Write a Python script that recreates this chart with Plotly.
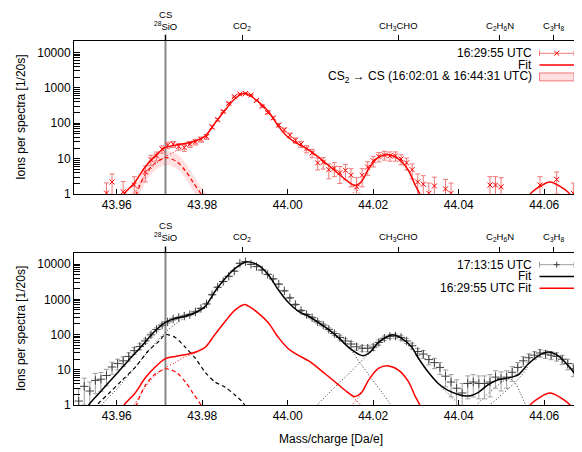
import plotly.graph_objects as go

# ---- mass channels (Da/e), shared by both spectra
mass = [43.9511, 43.9524, 43.9537, 43.9550, 43.9563, 43.9576, 43.9589, 43.9602, 43.9615, 43.9628,
        43.9641, 43.9654, 43.9667, 43.9680, 43.9693, 43.9706, 43.9719, 43.9732, 43.9745, 43.9758,
        43.9771, 43.9784, 43.9797, 43.9810, 43.9823, 43.9836, 43.9849, 43.9862, 43.9875, 43.9888,
        43.9901, 43.9914, 43.9927, 43.9940, 43.9953, 43.9966, 43.9979, 43.9992, 44.0005, 44.0018,
        44.0031, 44.0044, 44.0057, 44.0070, 44.0083, 44.0096, 44.0109, 44.0122, 44.0135, 44.0148,
        44.0161, 44.0174, 44.0187, 44.0200, 44.0213, 44.0226, 44.0239, 44.0252, 44.0265, 44.0278,
        44.0291, 44.0304, 44.0317, 44.0330, 44.0343, 44.0356, 44.0369, 44.0382, 44.0395, 44.0408,
        44.0421, 44.0434, 44.0447, 44.0460, 44.0473, 44.0486, 44.0499, 44.0512, 44.0525, 44.0538,
        44.0551, 44.0564, 44.0577, 44.0590, 44.0603, 44.0616, 44.0629, 44.0642, 44.0655, 44.0668,
        44.0681, 44.0694]

# ---- 16:29:55 UTC spectrum (top), None = empty channel
top_counts = [None, None, None, None, None, 1.07, 2.2, None, 1.16, None,
              1.8, None, 4.2, 9.4, 12, 18.6, 24, 25.6, 22, 20.6,
              25.6, 29.7, 35, 41.6, 79, 126, 215, 366, 562, 670,
              690, 630, 440, 300, 200, 141, 89, 65, 46, 33,
              26, 19, 14.5, 7.6, 7.9, 4.9, 5.4, 4.0, 4.7, 3.4,
              1.6, 3.4, 5.8, 8.7, 11.5, 12.6, 12, 12, 9.8, 7.6,
              4.9, 2.2, 1.9, 1.05, 1.7, None, 1.4, 1.05, None, None,
              None, None, None, None, 1.8, 1.8, 1.6, None, None, None,
              None, None, None, 1.8, None, None, 2.6, None, None, 1.05,
              None, None]
top_err = [0, 0, 0, 0, 0, 1.0, 1.5, 0, 1.1, 0,
           1.3, 0, 2.0, 3.0, 3.4, 4.3, 4.9, 5.0, 4.7, 4.5,
           5.0, 5.4, 5.9, 6.4, 8.9, 11, 15, 19, 24, 26,
           26, 25, 21, 17, 14, 12, 9.4, 8.1, 6.8, 5.7,
           5.1, 4.4, 3.8, 2.8, 2.8, 2.2, 2.3, 2.0, 2.2, 1.8,
           1.3, 1.8, 2.4, 2.9, 3.4, 3.5, 3.5, 3.5, 3.1, 2.8,
           2.2, 1.5, 1.4, 1.0, 1.3, 0, 1.2, 1.0, 0, 0,
           0, 0, 0, 0, 1.3, 1.3, 1.3, 0, 0, 0,
           0, 0, 0, 1.3, 0, 0, 1.6, 0, 0, 1.0,
           0, 0]

# ---- 17:13:15 UTC spectrum (bottom)
bot_counts = [1.3, 3.4, 2.5, 5.0, 5.4, 6.9, 12, 15, 18, 24,
              35, 46, 66, 98, 140, 185, 230, 275, 305, 335,
              370, 440, 550, 740, 1350, 2200, 3200, 4500, 6300, 10500,
              11700, 9800, 8500, 6800, 5100, 3800, 2700, 1740, 1100, 710,
              480, 370, 300, 230, 186, 141, 107, 83, 66, 54,
              45, 41, 41, 44, 60, 79, 89, 91, 83, 66,
              48, 33, 28, 19.5, 16, 11.7, 6.6, 4.5, 3.0, 2.2,
              4.1, 4.5, 4.1, 4.1, 4.5, 6.2, 5.6, 6.2, 8.5, 11.7,
              18, 22, 26, 30, 28, 26, 24, 20, 15, 10.7,
              6.9, 5.0]
bot_err = [1.6, 2.4, 2.0, 2.9, 3.0, 3.4, 4.5, 5.0, 5.5, 6.4,
           7.7, 8.8, 10.5, 13, 15, 18, 20, 22, 23, 24,
           25, 27, 30, 35, 48, 61, 74, 87, 103, 133,
           140, 129, 120, 107, 93, 80, 68, 54, 43, 35,
           28, 25, 22, 20, 18, 15, 13, 12, 10.5, 9.5,
           8.7, 8.3, 8.3, 8.6, 10, 11.5, 12.3, 12.4, 12, 10.5,
           9, 7.5, 7, 5.7, 5.2, 4.4, 3.3, 2.8, 2.2, 1.9,
           2.6, 2.8, 2.6, 2.6, 2.8, 3.2, 3.1, 3.2, 3.8, 4.4,
           5.5, 6.1, 6.6, 7.1, 6.9, 6.6, 6.4, 5.8, 5.0, 4.3,
           3.4, 2.9]

# ---- 16:29:55 UTC fit (solid red, both panels)
red_fit_mass = [43.9605, 43.9617, 43.9643, 43.9666, 43.9690, 43.9713, 43.9737, 43.9760, 43.9783,
                43.9807, 43.9830, 43.9854, 43.9877, 43.9899, 43.9908, 43.9931, 43.9955, 43.9978,
                44.0002, 44.0025, 44.0049, 44.0072, 44.0095, 44.0118, 44.0142, 44.0157, 44.0173,
                44.0189, 44.0212, 44.0236, 44.0259, 44.0282, 44.0298, 44.0309, 44.0315,
                44.0440,
                44.0560, 44.0567, 44.0590, 44.0613, 44.0637, 44.0660, 44.0667]
red_fit = [0.5, 1.0, 2.2, 5.75, 12.0, 20.4, 24.0, 26.9, 31.6,
           43.7, 102, 240, 500, 710, 640, 407, 214, 83,
           39, 25.7, 17.8, 11.0, 6.5, 3.8, 2.2, 1.75, 2.3,
           5.1, 11.0, 12.9, 9.8, 4.7, 1.8, 1.0, 0.6,
           None,
           0.6, 1.0, 1.66, 2.2, 1.66, 1.0, 0.6]

# CS component of the 16:29:55 fit (dashed red) and CS2 -> CS band
red_cs_mass = [43.9640, 43.9646, 43.9666, 43.9690, 43.9716, 43.9740, 43.9761, 43.9779, 43.9797, 43.9803]
red_cs = [0.6, 1.0, 3.5, 7.6, 10.7, 8.3, 4.5, 2.1, 1.0, 0.6]
band_mass = [43.9625, 43.9632, 43.9646, 43.9666, 43.9690, 43.9716, 43.9740, 43.9761, 43.9779,
             43.9797, 43.9810, 43.9818]
band_low = [0.3, 0.4, 0.6, 2.1, 4.7, 6.6, 5.2, 2.8, 1.2, 0.55, 0.3, 0.2]
band_high = [0.7, 1.0, 1.6, 5.5, 12.0, 16.5, 13.5, 7.4, 3.4, 1.6, 1.0, 0.7]

# other components of the 16:29:55 fit (dotted red)
red_co2_mass = [43.9638, 43.9643, 43.9666, 43.9690, 43.9713, 43.9737, 43.9760, 43.9783, 43.9807]
red_co2 = [0.7, 1.1, 3.2, 6.9, 11.2, 16.2, 23.4, 29.5, 42.5]
red_tail_mass = [44.0142, 44.0157, 44.0170, 44.0178]
red_tail = [2.2, 1.5, 1.0, 0.7]
red_rise_mass = [44.0140, 44.0150, 44.0163, 44.0173]
red_rise = [0.7, 1.0, 1.5, 2.2]

# ---- 17:13:15 UTC fit (solid black)
blk_fit_mass = [43.9525, 43.9534, 43.9565, 43.9596, 43.9627, 43.9659, 43.9686, 43.9713, 43.9737,
                43.9760, 43.9783, 43.9807, 43.9830, 43.9854, 43.9877, 43.9903, 43.9931, 43.9955,
                43.9978, 44.0002, 44.0025, 44.0049, 44.0072, 44.0095, 44.0118, 44.0142, 44.0165,
                44.0177, 44.0193, 44.0212, 44.0236, 44.0247, 44.0266, 44.0290, 44.0305, 44.0329,
                44.0352, 44.0375, 44.0399, 44.0422, 44.0446, 44.0469, 44.0492, 44.0516, 44.0539,
                44.0563, 44.0586, 44.0609, 44.0633, 44.0656, 44.0680, 44.0700]
blk_fit = [0.6, 1.0, 2.63, 6.9, 18.2, 47.9, 115, 219, 288,
           331, 417, 631, 1700, 3980, 7590, 11500, 9330, 4900,
           1860, 794, 457, 331, 219, 141, 83, 44, 28,
           25, 32, 60, 91, 98, 79, 44, 22, 8.5,
           4.1, 2.6, 2.0, 1.8, 2.3, 3.8, 5.2, 5.9, 7.2,
           14.8, 25, 32, 25, 13.2, 5.6, 2.7]

# CS component of the 17:13:15 fit (dashed black)
blk_cs_mass = [43.9550, 43.9557, 43.9581, 43.9612, 43.9643, 43.9674, 43.9698, 43.9713, 43.9721,
               43.9737, 43.9760, 43.9783, 43.9807, 43.9830, 43.9854, 43.9877, 43.9896, 43.9902]
blk_cs = [0.7, 1.1, 2.1, 5.0, 11.7, 34.7, 63, 100, 98,
          83, 44, 22, 8.5, 4.5, 3.2, 1.9, 1.15, 0.8]

# other components of the 17:13:15 fit (dotted black)
blk_co2_mass = [43.9560, 43.9565, 43.9604, 43.9643, 43.9682, 43.9721, 43.9760, 43.9783, 43.9807]
blk_co2 = [0.7, 1.0, 3.2, 12, 44, 141, 302, 400, 622]
blk_co2_tail_mass = [44.0142, 44.0149, 44.0172, 44.0195, 44.0219, 44.0239, 44.0245]
blk_co2_tail = [42, 35, 14, 5.8, 2.4, 1.1, 0.8]
blk_ch3cho_mass = [44.0066, 44.0072, 44.0095, 44.0118, 44.0142, 44.0165, 44.0189, 44.0197, 44.0212,
                   44.0236, 44.0247, 44.0266, 44.0290, 44.0305, 44.0329, 44.0352, 44.0375, 44.0402,
                   44.0410]
blk_ch3cho = [0.8, 1.1, 2.1, 4.0, 7.6, 14.5, 28, 34, 58,
              90, 97, 78, 43, 21.5, 8.3, 4.0, 2.1, 1.0, 0.75]
blk_c2h6n_mass = [44.0438, 44.0442, 44.0464, 44.0487, 44.0508, 44.0521, 44.0532, 44.0544, 44.0555, 44.0560]
blk_c2h6n = [0.8, 1.0, 1.9, 3.3, 5.0, 5.5, 4.2, 2.2, 1.1, 0.8]
blk_c3h8_mass = [44.0468, 44.0473, 44.0492, 44.0516, 44.0539, 44.0558, 44.0563]
blk_c3h8 = [0.8, 1.0, 1.6, 2.9, 5.4, 10.5, 14.0]

# ---- species marked on the top axes
species_mass = [43.9714, 43.9894, 44.0258, 44.0496, 44.0621]
species_text = ["CS<br><sup>28</sup>SiO", "CO<sub>2</sub>", "CH<sub>3</sub>CHO",
                "C<sub>2</sub>H<sub>6</sub>N", "C<sub>3</sub>H<sub>8</sub>"]
cs_mass = 43.9714

FONT = "Liberation Sans, Arial, Helvetica, sans-serif"
W, H = 582, 452
ML, MR = 66, 3
PW = W - ML - MR
RED = "#ff0000"
RED_BAR = "#f07878"
GRAY_BAR = "#a0a0a0"
GRAY_MK = "#404040"


def px_x(px):
    return (px - ML) / PW


def px_y(py):
    return 1 - py / H


top_dom = [px_y(189), px_y(34)]
bot_dom = [px_y(403.3), px_y(249)]

fig = go.Figure()


def line(x, y, color, width, dash, ax):
    fig.add_trace(go.Scatter(
        x=x, y=y, mode="lines", line=dict(color=color, width=width, dash=dash, shape="spline", smoothing=0.8),
        xaxis="x" if ax == 1 else "x2", yaxis="y" if ax == 1 else "y2",
        showlegend=False, hoverinfo="skip", connectgaps=False))


# top panel: CS2 -> CS band
fig.add_trace(go.Scatter(x=band_mass, y=band_low, mode="lines", line=dict(width=0, shape="spline"),
                         showlegend=False, hoverinfo="skip"))
fig.add_trace(go.Scatter(x=band_mass, y=band_high, mode="lines", line=dict(width=0, shape="spline"),
                         fill="tonexty", fillcolor="rgba(255,80,80,0.18)", showlegend=False, hoverinfo="skip"))

for ax in (1, 2):
    line(red_co2_mass, red_co2, RED, 1, "1px,2px", ax)
    line(red_tail_mass, red_tail, RED, 1, "1px,2px", ax)
    line(red_rise_mass, red_rise, RED, 1, "1px,2px", ax)
    line(red_cs_mass, red_cs, RED, 1.2, "4px,3px", ax)

# top data
fig.add_trace(go.Scatter(
    x=mass, y=top_counts, mode="markers",
    marker=dict(symbol="x-thin", size=5, line=dict(color=RED, width=1)),
    error_y=dict(type="data", array=top_err, color=RED_BAR, thickness=1, width=2.5),
    showlegend=False, hoverinfo="skip"))
line(red_fit_mass, red_fit, RED, 1.5, "solid", 1)

# bottom panel
line(blk_co2_mass, blk_co2, "#333333", 1, "1px,2px", 2)
line(blk_co2_tail_mass, blk_co2_tail, "#333333", 1, "1px,2px", 2)
line(blk_ch3cho_mass, blk_ch3cho, "#333333", 1, "1px,2px", 2)
line(blk_c2h6n_mass, blk_c2h6n, "#333333", 1, "1px,2px", 2)
line(blk_c3h8_mass, blk_c3h8, "#333333", 1, "1px,2px", 2)
line(blk_cs_mass, blk_cs, "black", 1.2, "4px,3px", 2)
fig.add_trace(go.Scatter(
    x=mass, y=bot_counts, mode="markers", xaxis="x2", yaxis="y2",
    marker=dict(symbol="cross-thin", size=6, line=dict(color=GRAY_MK, width=1)),
    error_y=dict(type="data", array=bot_err, color=GRAY_BAR, thickness=1, width=2.5),
    showlegend=False, hoverinfo="skip"))
line(blk_fit_mass, blk_fit, "black", 1.5, "solid", 2)
line(red_fit_mass, red_fit, RED, 1.5, "solid", 2)

tickfont = dict(family=FONT, size=12, color="black")
xcommon = dict(range=[43.95, 44.07], tick0=43.96, dtick=0.02, tickformat=".2f", ticks="inside",
               ticklen=5, tickcolor="black", showline=True, linecolor="black", linewidth=1,
               mirror=True, showgrid=False, zeroline=False, tickfont=tickfont, ticklabelstandoff=0)
ycommon = dict(type="log", range=[0, 4.31], tickvals=[1, 10, 100, 1000, 10000],
               ticktext=["1", "10", "100", "1000", "10000"], ticks="inside", ticklen=6,
               tickcolor="black", showline=True, linecolor="black", linewidth=1, mirror="allticks",
               showgrid=False, zeroline=False, tickfont=tickfont,
               minor=dict(ticks="inside", ticklen=3, tickcolor="black", dtick="D1", showgrid=False))
# species tick marks on the top edges (labels are drawn as annotations)
spec = dict(range=[43.95, 44.07], tickmode="array", tickvals=species_mass, showticklabels=False,
            side="top", ticks="outside", ticklen=5, tickcolor="black", showline=False,
            showgrid=False, zeroline=False)

fig.update_layout(
    width=W, height=H, margin=dict(l=ML, r=MR, t=0, b=0),
    paper_bgcolor="white", plot_bgcolor="white",
    font=dict(family=FONT, size=12, color="black"),
    xaxis=dict(domain=[0, 1], anchor="y", **xcommon),
    yaxis=dict(domain=top_dom, anchor="x", **ycommon),
    xaxis2=dict(domain=[0, 1], anchor="y2", **xcommon),
    yaxis2=dict(domain=bot_dom, anchor="x2", **ycommon),
    xaxis3=dict(overlaying="x", anchor="y", **spec),
    xaxis4=dict(overlaying="x2", anchor="y2", **spec),
)

# species axes need a (hidden) trace to be drawn
for xa, ya in (("x3", "y"), ("x4", "y2")):
    fig.add_trace(go.Scatter(x=[species_mass[0]], y=[None], xaxis=xa, yaxis=ya, mode="markers",
                             showlegend=False, hoverinfo="skip"))

shapes = []
# CS reference line through both panels
for xr, dom in (("x", top_dom), ("x2", bot_dom)):
    shapes.append(dict(type="line", xref=xr, yref="paper", x0=cs_mass, x1=cs_mass,
                       y0=dom[0], y1=dom[1] + 7 / H, line=dict(color="#888888", width=2), layer="below"))

annotations = []
for xr, label_py in (("x", 25), ("x2", 240)):
    for m, t in zip(species_mass, species_text):
        annotations.append(dict(text=t, xref=xr, yref="paper", x=m, y=px_y(label_py),
                                xanchor="center", yanchor="bottom", showarrow=False, borderpad=0,
                                font=dict(family=FONT, size=9.5, color="black")))
for dom in (top_dom, bot_dom):
    annotations.append(dict(text="Ions per spectra [1/20s]", xref="paper", yref="paper",
                            x=px_x(13), y=(dom[0] + dom[1]) / 2, textangle=-90, showarrow=False,
                            xanchor="center", yanchor="middle",
                            font=dict(family=FONT, size=12, color="black")))
annotations.append(dict(text="Mass/charge [Da/e]", xref="paper", yref="paper", x=0.5, y=px_y(438),
                        xanchor="center", yanchor="middle", showarrow=False,
                        font=dict(family=FONT, size=12, color="black")))


def legend_row(text, py, kind, color, bar_color=None, marker=None):
    annotations.append(dict(text=text, xref="paper", yref="paper", x=px_x(525), y=px_y(py),
                            xanchor="right", yanchor="middle", showarrow=False, borderpad=0,
                            font=dict(family=FONT, size=12, color="black")))
    x0, x1 = px_x(531.5), px_x(566)
    if kind == "line":
        shapes.append(dict(type="line", xref="paper", yref="paper", x0=x0, x1=x1,
                           y0=px_y(py), y1=px_y(py), line=dict(color=color, width=1.5)))
    elif kind == "box":
        shapes.append(dict(type="rect", xref="paper", yref="paper", x0=x0, x1=x1,
                           y0=px_y(py + 4), y1=px_y(py - 4), fillcolor="rgba(255,80,80,0.18)",
                           line=dict(color=RED_BAR, width=1)))
    else:
        shapes.append(dict(type="line", xref="paper", yref="paper", x0=x0, x1=x1,
                           y0=px_y(py), y1=px_y(py), line=dict(color=bar_color, width=1)))
        for xe in (531.5, 566):
            shapes.append(dict(type="line", xref="paper", yref="paper", x0=px_x(xe), x1=px_x(xe),
                               y0=px_y(py - 3), y1=px_y(py + 3), line=dict(color=bar_color, width=1)))
        cx = 548.75
        if marker == "x":
            segs = [((cx - 2.5, py - 2.5), (cx + 2.5, py + 2.5)), ((cx - 2.5, py + 2.5), (cx + 2.5, py - 2.5))]
        else:
            segs = [((cx - 3, py), (cx + 3, py)), ((cx, py - 3), (cx, py + 3))]
        for (ax_, ay_), (bx_, by_) in segs:
            shapes.append(dict(type="line", xref="paper", yref="paper", x0=px_x(ax_), x1=px_x(bx_),
                               y0=px_y(ay_), y1=px_y(by_), line=dict(color=color, width=1)))


legend_row("16:29:55 UTC", 46, "err", RED, RED_BAR, "x")
legend_row("Fit", 58, "line", RED)
legend_row("CS<sub>2</sub> → CS (16:02:01 &amp; 16:44:31 UTC)", 70, "box", RED)
legend_row("17:13:15 UTC", 260.7, "err", GRAY_MK, GRAY_BAR, "+")
legend_row("Fit", 272.7, "line", "black")
legend_row("16:29:55 UTC Fit", 284.7, "line", RED)

fig.update_layout(shapes=shapes, annotations=annotations)
fig.write_html("out.html")
